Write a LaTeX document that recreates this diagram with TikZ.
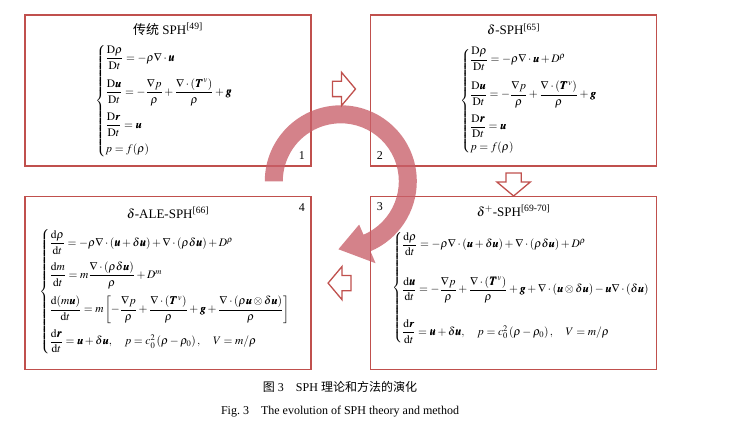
\documentclass[tikz,border=0pt]{standalone}
\usepackage{amsmath}
\usepackage{mathptmx}
\usepackage{bm}
\usepackage[no-math]{fontspec}
\setmainfont{Liberation Serif}
\newfontfamily\cjk{Noto Sans CJK SC}
\usepackage{xcolor}
\usetikzlibrary{calc,positioning,shapes.arrows}
\definecolor{sphred}{RGB}{192,80,77}
\definecolor{sphpink}{RGB}{200,95,105}

\begin{document}
\begin{tikzpicture}[x=1pt,y=1pt,
      node distance=29pt and 58pt,
      frame/.style={draw=sphred,line width=1.6pt,minimum width=286pt,
                    minimum height=151pt,inner sep=0pt},
      tall/.style={minimum height=173pt},
      title/.style={font=\fontsize{13}{15}\selectfont,inner sep=0pt},
      eq/.style={anchor=west,inner sep=0pt,font=\fontsize{11.5}{13}\selectfont},
      num/.style={font=\fontsize{12}{14}\selectfont,inner sep=0pt},
      figcap/.style={font=\fontsize{12}{14}\selectfont,inner sep=0pt},
      blockarr/.style={single arrow,draw=sphred,line width=1.3pt,fill=white,
                       minimum height=23pt,inner sep=7pt,
                       single arrow head extend=9pt,single arrow tip angle=100}]
    \useasboundingbox (0,0) rectangle (739,428);

    % the four boxes
    \node[frame] (trad) at (168,337.5) {};
    \node[frame,right=of trad] (delta) {};
    \node[frame,tall,below=of trad] (ale) {};
    \node[frame,tall,right=of ale] (deltaplus) {};

    % circular arrow behind the arrows
    \coordinate (hub) at ($(trad.south east)!0.5!(deltaplus.north west)$);
    \fill[sphpink,opacity=0.78] ($(hub)+(180:76)$)
      arc[start angle=180,end angle=-67,radius=76]
      -- ($(hub)+(-67:89)$) -- ($(hub)+(-92:68)$) -- ($(hub)+(-67:47)$)
      -- ($(hub)+(-67:58)$) arc[start angle=-67,end angle=180,radius=58]
      -- cycle;

    \node[title] (tradtitle) at ([yshift=-15pt]trad.north)
      {{\cjk 传统} SPH\textsuperscript{[49]}};
    \node[title] (deltatitle) at ([yshift=-15pt]delta.north)
      {$\delta$-SPH\textsuperscript{[65]}};
    \node[title] (aletitle) at ([yshift=-17pt]ale.north)
      {$\delta$-ALE-SPH\textsuperscript{[66]}};
    \node[title] (plustitle) at ([yshift=-15pt]deltaplus.north)
      {$\delta^{+}$-SPH\textsuperscript{[69-70]}};

    \node[eq] (tradeq) at ([xshift=71pt,yshift=-87pt]trad.north west)
      {$\begin{cases}
        \dfrac{\mathrm{D}\rho}{\mathrm{D}t}=-\rho\nabla\cdot\bm{u}\\[13pt]
        \dfrac{\mathrm{D}\bm{u}}{\mathrm{D}t}=-\dfrac{\nabla p}{\rho}
          +\dfrac{\nabla\cdot\left(\bm{T}^{v}\right)}{\rho}+\bm{g}\\[13pt]
        \dfrac{\mathrm{D}\bm{r}}{\mathrm{D}t}=\bm{u}\\[8pt]
        p=f(\rho)
       \end{cases}$};
    \node[eq] (deltaeq) at ([xshift=90pt,yshift=-87pt]delta.north west)
      {$\begin{cases}
        \dfrac{\mathrm{D}\rho}{\mathrm{D}t}=-\rho\nabla\cdot\bm{u}+D^{\rho}\\[14pt]
        \dfrac{\mathrm{D}\bm{u}}{\mathrm{D}t}=-\dfrac{\nabla p}{\rho}
          +\dfrac{\nabla\cdot\left(\bm{T}^{v}\right)}{\rho}+\bm{g}\\[12pt]
        \dfrac{\mathrm{D}\bm{r}}{\mathrm{D}t}=\bm{u}\\[5pt]
        p=f(\rho)
       \end{cases}$};
    \node[eq] (aleeq) at ([xshift=15pt,yshift=-96pt]ale.north west)
      {$\begin{cases}
        \dfrac{\mathrm{d}\rho}{\mathrm{d}t}=-\rho\nabla\cdot(\bm{u}+\delta\bm{u})
          +\nabla\cdot(\rho\delta\bm{u})+D^{\rho}\\[11pt]
        \dfrac{\mathrm{d}m}{\mathrm{d}t}=m\dfrac{\nabla\cdot(\rho\delta\bm{u})}{\rho}
          +D^{m}\\[13pt]
        \dfrac{\mathrm{d}(m\bm{u})}{\mathrm{d}t}=m\left[-\dfrac{\nabla p}{\rho}
          +\dfrac{\nabla\cdot\left(\bm{T}^{v}\right)}{\rho}+\bm{g}
          +\dfrac{\nabla\cdot(\rho\bm{u}\otimes\delta\bm{u})}{\rho}\right]\\[12pt]
        \dfrac{\mathrm{d}\bm{r}}{\mathrm{d}t}=\bm{u}+\delta\bm{u},\quad
          p=c_0^2\left(\rho-\rho_0\right),\quad V=m/\rho
       \end{cases}$};
    \node[eq] (pluseq) at ([xshift=22pt,yshift=-92pt]deltaplus.north west)
      {$\begin{cases}
        \dfrac{\mathrm{d}\rho}{\mathrm{d}t}=-\rho\nabla\cdot(\bm{u}+\delta\bm{u})
          +\nabla\cdot(\rho\delta\bm{u})+D^{\rho}\\[24pt]
        \dfrac{\mathrm{d}\bm{u}}{\mathrm{d}t}=-\dfrac{\nabla p}{\rho}
          +\dfrac{\nabla\cdot\left(\bm{T}^{v}\right)}{\rho}+\bm{g}
          +\nabla\cdot(\bm{u}\otimes\delta\bm{u})-\bm{u}\nabla\cdot(\delta\bm{u})\\[22pt]
        \dfrac{\mathrm{d}\bm{r}}{\mathrm{d}t}=\bm{u}+\delta\bm{u},\quad
          p=c_0^2\left(\rho-\rho_0\right),\quad V=m/\rho
       \end{cases}$};

    % step numbers
    \node[num] (one) at ([xshift=-10pt,yshift=11pt]trad.south east) {1};
    \node[num] (two) at ([xshift=10pt,yshift=11pt]delta.south west) {2};
    \node[num] (three) at ([xshift=10pt,yshift=-11pt]deltaplus.north west) {3};
    \node[num] (four) at ([xshift=-10pt,yshift=-12pt]ale.north east) {4};

    % block arrows between the boxes
    \node[blockarr] (toright) at ($(trad.east)!0.5!(delta.west)+(0pt,1.5pt)$) {};
    \node[blockarr,rotate=-90] (todown) at ($(delta.south)!0.5!(deltaplus.north)$) {};
    \node[blockarr,rotate=180] (toleft) at ($(deltaplus.west)!0.5!(ale.east)+(2pt,0pt)$) {};

    \node[figcap] (capzh) at (340,41) {{\cjk 图}~3\quad SPH {\cjk 理论和方法的演化}};
    \node[figcap] (capen) at (340,16) {Fig.~3\quad The evolution of SPH theory and method};
  \end{tikzpicture}
\end{document}
